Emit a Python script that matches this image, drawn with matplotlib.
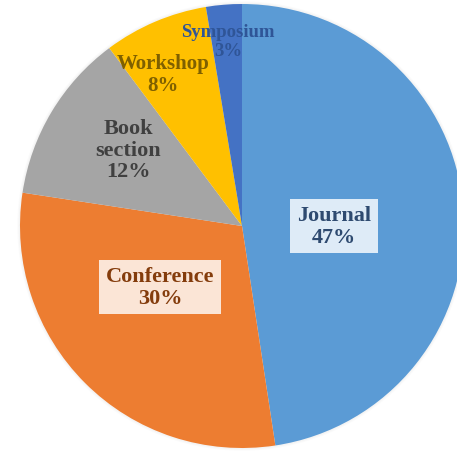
import matplotlib
matplotlib.use("Agg")
import matplotlib.pyplot as plt

categories = ["Journal", "Conference", "Book\nsection", "Workshop", "Symposium"]
values = [47.6, 29.8, 12.4, 7.6, 2.6]
labels = ["47%", "30%", "12%", "8%", "3%"]

colors = ["#5B9BD5", "#ED7D31", "#A5A5A5", "#FFC000", "#4472C4"]
text_colors = ["#2E4A70", "#843C0C", "#404040", "#7F6000", "#2F5597"]
box_colors = ["#DEEBF7", "#FBE5D6", None, None, None]
font_sizes = [16, 16, 16, 15, 13.5]
# label positions in pixels (x, y from top)
label_px = [(334, 227), (160, 288), (128, 151), (163, 75), (228, 42)]

W, H = 457, 452
cx, cy, r = 242, 227, 222

fig = plt.figure(figsize=(W / 100, H / 100), dpi=100)
ax = fig.add_axes([0, 0, 1, 1])
# soft outer shadow
for k, a in [(1.012, 0.05), (1.006, 0.08)]:
    ax.pie([1], colors=["#B0B0B0"], radius=k, startangle=90,
           wedgeprops=dict(linewidth=0, alpha=a))
ax.pie(values, colors=colors, startangle=90, counterclock=False,
       radius=1.0, wedgeprops=dict(linewidth=0))
ax.set_aspect("auto")
ax.set_xlim((0 - cx) / r, (W - cx) / r)
ax.set_ylim((cy - H) / r, cy / r)
ax.axis("off")

for cat, lab, tc, bc, fs, (px, py) in zip(categories, labels, text_colors,
                                           box_colors, font_sizes, label_px):
    x = (px - cx) / r
    y = (cy - py) / r
    kw = {}
    if bc is not None:
        kw["bbox"] = dict(boxstyle="square,pad=0.3", facecolor=bc,
                          edgecolor="none")
    ax.text(x, y, f"{cat}\n{lab}", ha="center", va="center", color=tc,
            fontsize=fs, fontweight="bold", family="Liberation Serif",
            linespacing=1.1, **kw)

fig.savefig("out.png", dpi=100)
